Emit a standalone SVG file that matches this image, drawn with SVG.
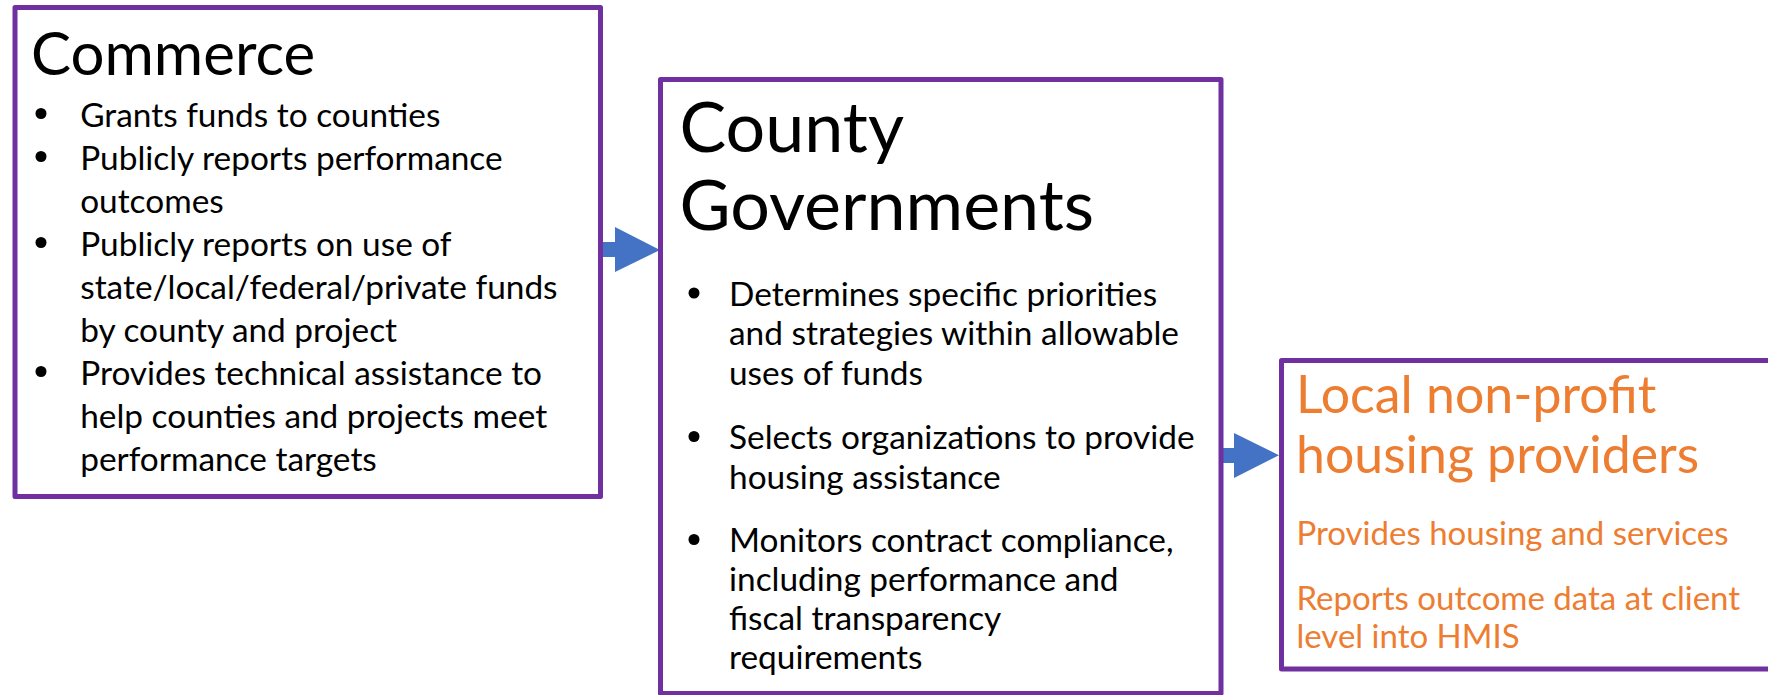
<svg xmlns="http://www.w3.org/2000/svg" width="1768" height="695" viewBox="0 0 1768 695">
<style>
.box{fill:#FFFFFF;stroke:#7030A0;stroke-width:5;stroke-linejoin:round}
.arrow{fill:#4472C4;stroke:none}
.t{font-family:Lato,"Open Sans","Liberation Sans",sans-serif;fill:#000000}
.o{font-family:Lato,"Open Sans","Liberation Sans",sans-serif;fill:#ED7D31}
.b{font-size:33.4px}
.ob{font-size:33px}
.dot{fill:#000000}
</style>
<rect width="1768" height="695" fill="#FFFFFF"/>
<g id="connectors">
<polygon class="arrow" points="600,242 615,242 615,227 660,250 615,272 615,257 600,257"/>
<polygon class="arrow" points="1221,448 1234,448 1234,433 1279,455.3 1234,478 1234,463 1221,463"/>
</g>
<g id="commerce">
<rect class="box" x="15" y="7.5" width="585.5" height="489"/>
<text class="t" x="31" y="75" font-size="60">Commerce</text>
<circle class="dot" cx="41" cy="113.5" r="5.5"/>
<circle class="dot" cx="41" cy="156.5" r="5.5"/>
<circle class="dot" cx="41" cy="242.5" r="5.5"/>
<circle class="dot" cx="41" cy="371.5" r="5.5"/>
<text class="t b" x="80.2" y="126.7">Grants funds to counties</text>
<text class="t b" x="80.2" y="169.7">Publicly reports performance</text>
<text class="t b" x="80.2" y="212.7">outcomes</text>
<text class="t b" x="80.2" y="255.7">Publicly reports on use of</text>
<text class="t b" x="80.2" y="298.7">state/local/federal/private funds</text>
<text class="t b" x="80.2" y="341.7">by county and project</text>
<text class="t b" x="80.2" y="384.7">Provides technical assistance to</text>
<text class="t b" x="80.2" y="427.7">help counties and projects meet</text>
<text class="t b" x="80.2" y="470.7">performance targets</text>
</g>
<g id="county">
<rect class="box" x="660.5" y="79.5" width="560.5" height="614"/>
<text class="t" x="679.5" y="152" font-size="70">County</text>
<text class="t" x="679.5" y="229.5" font-size="70">Governments</text>
<circle class="dot" cx="694" cy="293" r="5.5"/>
<circle class="dot" cx="694" cy="436.5" r="5.5"/>
<circle class="dot" cx="694" cy="539.5" r="5.5"/>
<text class="t b" x="729" y="305.5">Determines specific priorities</text>
<text class="t b" x="729" y="345">and strategies within allowable</text>
<text class="t b" x="729" y="384.5">uses of funds</text>
<text class="t b" x="729" y="449">Selects organizations to provide</text>
<text class="t b" x="729" y="488.5">housing assistance</text>
<text class="t b" x="729" y="552">Monitors contract compliance,</text>
<text class="t b" x="729" y="591">including performance and</text>
<text class="t b" x="729" y="630">fiscal transparency</text>
<text class="t b" x="729" y="668.5">requirements</text>
</g>
<g id="providers">
<rect class="box" x="1281.5" y="360.5" width="500" height="308.5"/>
<text class="o" x="1296" y="413" font-size="51.8">Local non-profit</text>
<text class="o" x="1296" y="473" font-size="51.8">housing providers</text>
<text class="o ob" x="1296.5" y="545">Provides housing and services</text>
<text class="o ob" x="1296.5" y="609.5">Reports outcome data at client</text>
<text class="o ob" x="1296.5" y="648">level into HMIS</text>
</g>
</svg>
